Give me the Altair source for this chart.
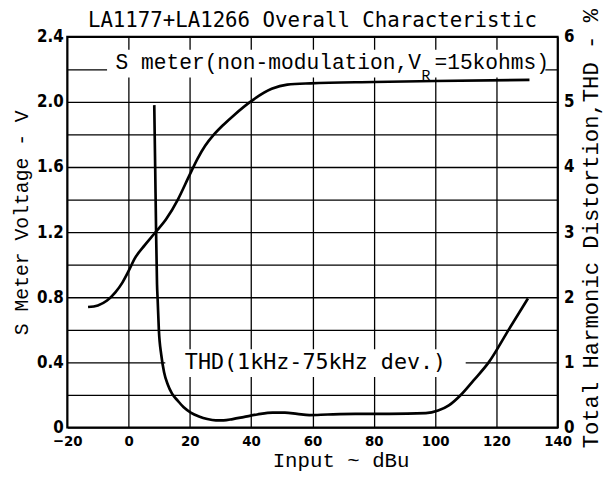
import altair as alt
import pandas as pd

# ---- data ----
s_input = [-13.2, -10, -7, -4.3, -2, 0, 2.1, 5.3, 8.4, 12.3, 16.1, 19.9, 22.5, 25, 27.9, 31, 34.5, 39.7, 46.7, 51.8, 59.4, 80, 100, 130.8]
s_volt = [0.74, 0.75, 0.78, 0.83, 0.89, 0.96, 1.04, 1.12, 1.19, 1.28, 1.40, 1.55, 1.65, 1.73, 1.80, 1.86, 1.92, 2.0, 2.08, 2.106, 2.114, 2.122, 2.128, 2.135]

thd_input = [8.4, 8.7, 9.0, 9.3, 9.5, 9.9, 10.7, 11.6, 12.8, 14.2, 16.1, 18, 20.3, 23, 25.7, 28.5, 31, 34, 37.5, 42, 47, 51, 55, 59, 65, 74, 85, 97, 101, 104.5, 108.4, 112.5, 117.5, 124, 130.3]
thd_pct = [4.95, 4.0, 3.0, 2.2, 1.97, 1.5, 1.11, 0.85, 0.66, 0.52, 0.41, 0.31, 0.23, 0.17, 0.13, 0.11, 0.11, 0.13, 0.16, 0.2, 0.23, 0.23, 0.21, 0.19, 0.2, 0.21, 0.21, 0.22, 0.26, 0.34, 0.5, 0.72, 1.0, 1.5, 1.98]

x_ticks = [-20, 0, 20, 40, 60, 80, 100, 120, 140]
v_ticks = [0, 0.2, 0.4, 0.6, 0.8, 1.0, 1.2, 1.4, 1.6, 1.8, 2.0, 2.2, 2.4]
thd_ticks = [0, 1, 2, 3, 4, 5, 6]

title_text = "LA1177+LA1266 Overall Characteristic"
s_label_main = "S meter(non-modulation,V"
s_label_sub = "R"
s_label_end = "=15kohms)"
thd_label = "THD(1kHz-75kHz dev.)"

smeter = pd.DataFrame({"input": s_input, "volt": s_volt})
thd = pd.DataFrame({"input": thd_input, "thd": thd_pct})

# white label backgrounds (gaps in the grid behind the labels)
boxes = pd.DataFrame({
    "x1": [-7.0, 12.0], "x2": [136.0, 110.0],
    "y1": [2.15, 0.31], "y2": [2.32, 0.48],
})
texts_main = pd.DataFrame({"x": [95.4], "y": [2.2], "t": [s_label_main]})
texts_sub = pd.DataFrame({"x": [95.6], "y": [2.135], "t": [s_label_sub]})
texts_end = pd.DataFrame({"x": [99.8], "y": [2.2], "t": [s_label_end]})
texts_thd = pd.DataFrame({"x": [61.0], "y": [0.4], "t": [thd_label]})

x_scale = alt.Scale(domain=[-20, 140], nice=False, zero=False)
v_scale = alt.Scale(domain=[0, 2.4], nice=False, zero=False)
t_scale = alt.Scale(domain=[0, 6], nice=False, zero=False)

LABEL_FONT = "Liberation Sans Narrow, DejaVu Sans Condensed, Liberation Sans, sans-serif"
MONO = "Liberation Mono, Courier New, monospace"

x_axis = alt.Axis(values=x_ticks, grid=True, title="Input ~ dBu", titleFont=MONO,
                  titleFontSize=21, titleFontWeight="normal", titleX=277, titleY=34,
                  titleBaseline="middle", labelFont=LABEL_FONT, labelFontSize=15,
                  labelFontWeight="bold", labelPadding=6, labelColor="black",
                  titleColor="black", labelFlush=False)
v_axis = alt.Axis(values=v_ticks, grid=True, title="S Meter Voltage - V", titleFont=MONO,
                  titleFontSize=20, titleFontWeight="normal", titleX=-46, titleY=188,
                  titleBaseline="middle", titleAngle=270,
                  labelExpr="round(datum.value*10) % 4 == 0 ? (datum.value == 0 ? '0' : format(datum.value, '.1f')) : ''",
                  labelFont=LABEL_FONT, labelFontSize=17, labelFontWeight="bold",
                  labelPadding=4, labelColor="black", titleColor="black", labelFlush=False)
t_axis = alt.Axis(values=thd_ticks, grid=False, orient="right",
                  title="Total Harmonic Distortion,THD - %", titleFont=MONO,
                  titleFontSize=22.5, titleFontWeight="normal", titleAngle=270,
                  titleX=33, titleY=194, titleBaseline="middle",
                  labelFont=LABEL_FONT, labelFontSize=17, labelFontWeight="bold",
                  labelPadding=6, labelColor="black", titleColor="black", labelFlush=False)

s_line = alt.Chart(smeter).mark_line(color="black", strokeWidth=2.7, interpolate="monotone").encode(
    x=alt.X("input:Q", scale=x_scale, axis=x_axis),
    y=alt.Y("volt:Q", scale=v_scale, axis=v_axis))

box_layer = alt.Chart(boxes).mark_rect(color="white").encode(
    x=alt.X("x1:Q", scale=x_scale, axis=None), x2="x2:Q",
    y=alt.Y("y1:Q", scale=v_scale, axis=None), y2="y2:Q")

def txt(df, align, size, baseline="alphabetic", font=MONO):
    return alt.Chart(df).mark_text(align=align, baseline=baseline, font=font,
                                   fontSize=size, color="black").encode(
        x=alt.X("x:Q", scale=x_scale, axis=None),
        y=alt.Y("y:Q", scale=v_scale, axis=None),
        text="t:N")

t_main = txt(texts_main, "right", 21.5)
t_sub = txt(texts_sub, "left", 15)
t_end = txt(texts_end, "left", 21.5)
t_thd = txt(texts_thd, "center", 22, baseline="middle", font="DejaVu Sans Mono, monospace")

thd_line = alt.Chart(thd).mark_line(color="black", strokeWidth=2.7, interpolate="monotone").encode(
    x=alt.X("input:Q", scale=x_scale, axis=None),
    y=alt.Y("thd:Q", scale=t_scale, axis=t_axis))

# every layer has its own (identical) scales; only s_line and thd_line draw axes
chart = alt.layer(s_line, box_layer, t_main, t_sub, t_end, t_thd, thd_line).resolve_scale(
    x="independent", y="independent"
).properties(
    width=497, height=396,
    background="white",
    autosize=alt.AutoSizeParams(type="none"),
    padding={"left": 60, "top": 26, "right": 50, "bottom": 47},
    title=alt.TitleParams(text=title_text, font="DejaVu Sans Mono, monospace", fontSize=21,
                          fontWeight="normal", anchor="middle", offset=6, dy=29,
                          frame="group", color="black"),
).configure_view(stroke="black", strokeWidth=2).configure_axis(
    domain=False, ticks=False, gridColor="black", gridOpacity=1, gridWidth=1.3
)

chart.save("out.html", embed_options={"renderer": "svg", "actions": False})
